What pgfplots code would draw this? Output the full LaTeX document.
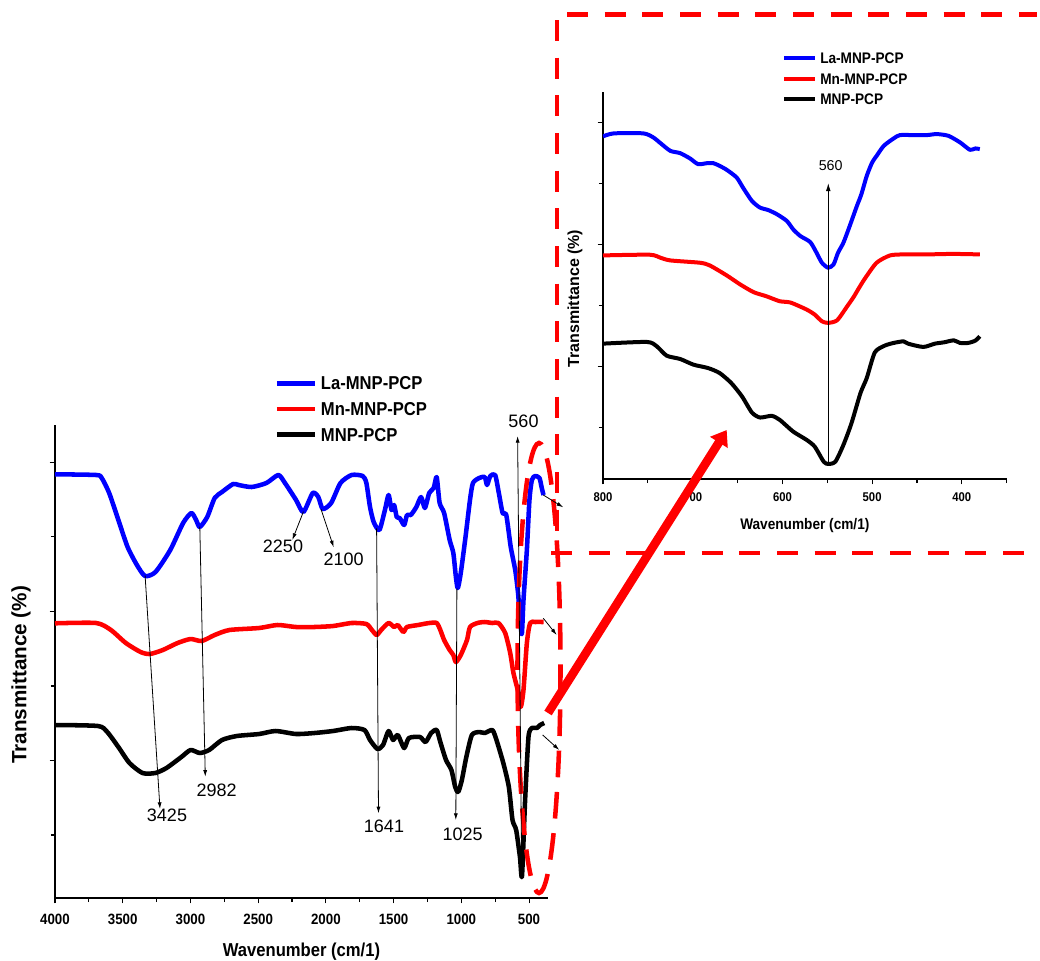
\documentclass[border=0pt]{standalone}
\usepackage{fontspec}
\usepackage{pgfplots}
\pgfplotsset{compat=1.18}
\usetikzlibrary{arrows.meta}
\newfontfamily\arialn[FakeStretch=0.89]{Liberation Sans}
\newfontfamily\arial{Liberation Sans}
\definecolor{myblue}{RGB}{0,0,255}
\definecolor{myred}{RGB}{255,0,0}

\pgfplotsset{
  spec/.style={
    scale only axis,
    x dir=reverse,
    axis x line*=bottom, axis y line*=left,
    axis line style={line width=0.9pt,-},
    tick align=outside,
    major tick length=4pt, minor tick length=3pt,
    every tick/.style={black, line width=0.8pt},
    every minor tick/.style={black, line width=0.8pt},
    yticklabels={,,,},
    /pgf/number format/1000 sep={},
    /pgf/number format/assume math mode=true,
    every axis plot/.append style={line width=3.4pt, no markers, line join=round, smooth, tension=0.4},
    legend cell align=left,
    legend image code/.code={\draw[#1] (0pt,0pt) -- (\legimglen,0pt);},
  }
}
\newcommand\legimglen{28.4pt}

\begin{document}
\begin{tikzpicture}
\begin{scope}[x=0.75pt,y=-0.75pt]
\path[use as bounding box] (0,0) rectangle (1040,961);
\end{scope}

% ---------------- main axis ----------------
\begin{axis}[spec,
  at={(41.25pt,-673.5pt)}, anchor=south west,
  width=369.75pt, height=354.75pt,
  xmin=360, xmax=4000, ymin=0, ymax=473,
  xtick={4000,3500,...,500},
  minor xtick={3750,3250,...,750},
  ytick={137.3,286.5,435.7},
  minor ytick={63,212,361.1},
  xticklabel style={font=\arialn\bfseries\fontsize{11.2}{13}\selectfont, inner sep=0pt, text height=8pt, text depth=0pt, anchor=north, yshift=-7.8pt},
  xlabel={Wavenumber (cm/1)},
  ylabel={Transmittance (\%)},
  xlabel style={at={(axis description cs:0.5,0)}, anchor=center, yshift=-39pt, font=\arialn\bfseries\fontsize{14}{16}\selectfont, inner sep=0pt, text height=10pt, text depth=0pt},
  ylabel style={at={(axis description cs:-0.073,0.4715)}, anchor=center, rotate=0, font=\arial\bfseries\fontsize{15.5}{17}\selectfont, inner sep=0pt, text height=11.1pt, text depth=0pt},
  legend style={draw=none, fill=none, inner sep=0pt, outer sep=0pt,
    at={(axis description cs:0.4456,1.1023)}, anchor=north west,
    row sep=9.3pt, column sep=2.9pt,
    font=\arialn\bfseries\fontsize{14}{16}\selectfont,
    nodes={inner sep=0pt, text height=10pt, text depth=0pt}},
]
\addplot[myblue] coordinates {(4000,423.7)(3696,423)(3655,420)(3600,405)(3532,378)(3464,351)(3395,333)(3335,322)(3258,326)(3149,348)(3054,375)(2993,385)(2958,378)(2931,371)(2876,381)(2821,400)(2767,406)(2685,414)(2644,413)(2548,411)(2439,415)(2351,423)(2302,415)(2220,398)(2166,386)(2097,405)(2056,401)(2023,389)(1961,395)(1892,415)(1810,423)(1728,422)(1701,415)(1674,391)(1647,376)(1605,368)(1564,388)(1537,403)(1515,388)(1496,393)(1477,381)(1455,380)(1422,373)(1401,383)(1373,383)(1332,391)(1297,401)(1269,390)(1237,405)(1204,410)(1182,421)(1160,395)(1127,385)(1086,358)(1059,345)(1040,321)(1026,310)(1004,325)(969,361)(936,398)(914,415)(868,420)(827,421)(810,413)(786,422)(750,423)(723,405)(695,385)(668,383)(635,351)(602,328)(581,305)(567,280)(553,264)(541,298)(516,348)(497,398)(479,418)(455,422)(423,420)(406,410)(393,403)};
\addlegendentry{La-MNP-PCP}
\addplot[myred] coordinates {(4000,274.7)(3696,275)(3587,268)(3477,255)(3368,246)(3300,244)(3204,248)(3095,255)(2999,259)(2917,257)(2821,263)(2712,268)(2493,270)(2357,273)(2220,271)(2084,271)(1947,272)(1810,275)(1701,274)(1660,268)(1625,263)(1592,268)(1537,275)(1496,271)(1469,273)(1428,266)(1401,271)(1319,273)(1237,275)(1182,275)(1155,268)(1127,258)(1086,248)(1059,243)(1040,236)(1004,243)(958,258)(936,271)(881,275)(827,276)(772,275)(726,275)(676,265)(639,245)(615,225)(578,205)(561,191)(541,208)(516,255)(492,275)(455,276)(393,276)};
\addlegendentry{Mn-MNP-PCP}
\addplot[black] coordinates {(4000,173)(3682,172)(3614,166)(3532,151)(3450,135)(3354,125)(3259,125)(3177,130)(3067,141)(2999,148)(2931,145)(2862,148)(2767,158)(2657,162)(2493,164)(2371,167)(2220,164)(2084,165)(1947,167)(1810,170)(1715,168)(1674,158)(1619,149)(1578,153)(1537,167)(1504,158)(1469,163)(1422,150)(1387,160)(1305,161)(1264,156)(1223,165)(1182,168)(1155,156)(1113,138)(1073,128)(1045,111)(1023,106)(996,118)(963,141)(922,163)(868,166)(827,165)(772,168)(745,160)(690,135)(649,111)(622,78)(595,68)(567,41)(552,22)(529,98)(504,161)(479,170)(442,170)(418,173)(388,175)};
\addlegendentry{MNP-PCP}
\end{axis}

% ---------------- inset axis ----------------
\renewcommand\legimglen{23.5pt}
\begin{axis}[spec,
  at={(452.25pt,-359.25pt)}, anchor=south west,
  width=302.78pt, height=289.5pt,
  xmin=350, xmax=800, ymin=0, ymax=386,
  xtick={800,700,...,400},
  minor xtick={750,650,...,350},
  ytick={112,234,356},
  minor ytick={51,173,295},
  xticklabel style={font=\arialn\bfseries\fontsize{9.5}{11}\selectfont, inner sep=0pt, text height=6.8pt, text depth=0pt, anchor=north, yshift=-5.9pt},
  xlabel={Wavenumber (cm/1)},
  ylabel={Transmittance (\%)},
  xlabel style={at={(axis description cs:0.5,0)}, anchor=center, yshift=-33.75pt, font=\arialn\bfseries\fontsize{11.5}{13}\selectfont, inner sep=0pt, text height=8.2pt, text depth=0pt},
  ylabel style={at={(axis description cs:-0.0731,0.466)}, anchor=center, rotate=0, font=\arial\bfseries\fontsize{12}{14}\selectfont, inner sep=0pt, text height=8.6pt, text depth=0pt},
  every axis plot/.append style={line width=3pt},
  legend style={draw=none, fill=none, inner sep=0pt, outer sep=0pt,
    at={(axis description cs:0.4437,1.1016)}, anchor=north west,
    row sep=7.3pt, column sep=2.1pt,
    font=\arialn\bfseries\fontsize{11.5}{13}\selectfont,
    nodes={inner sep=0pt, text height=8.2pt, text depth=0pt}},
]
\addplot[myblue] coordinates {(800,341.7)(788,344.7)(755,344.7)(744,340.7)(736,335)(725,327.3)(714,325)(703,319.7)(694,314)(684,315)(677,315)(670,312.3)(662,308.3)(651,300.7)(644,290.7)(634,277.3)(625,270.7)(616,268.3)(606,264)(595,257.3)(588,249)(580,242.3)(569,236.3)(562,225.7)(556,215.7)(549,210.7)(543,214)(538,225.7)(532,235.7)(525,252.3)(517,272.3)(512,284)(506,302.3)(500,315.7)(495,322.3)(487,332.3)(476,339.7)(469,343)(454,343)(439,343)(428,344)(415,342.3)(402,335.7)(391,328.3)(385,329.7)(380,329)};
\addlegendentry{La-MNP-PCP}
\addplot[myred] coordinates {(800,223)(748,223.7)(736,220.7)(725,218)(692,215.7)(681,213)(662,203)(647,194)(632,186.3)(618,182.3)(603,177.3)(591,176)(573,169)(564,164)(556,157.3)(549,155.7)(539,158.3)(528,172)(521,181)(515,190)(508,200)(495,215.7)(480,223)(465,224)(439,224)(410,224.5)(380,224)};
\addlegendentry{Mn-MNP-PCP}
\addplot[black] coordinates {(800,135)(751,136.7)(740,132.3)(729,123)(714,119.7)(699,114)(683,110.7)(670,105.7)(657,95.7)(645,82.3)(634,66.3)(625,61.3)(612,63)(603,59)(588,47.3)(573,39)(564,32.3)(554,17.3)(549,15)(541,17.3)(532,34)(523,55.7)(513,85.7)(506,100.7)(497,126.3)(486,133)(476,135.7)(465,137.3)(460,135)(443,131.7)(430,135)(420,136.3)(409,138.3)(402,135.7)(393,135.7)(385,138)(380,142.3)};
\addlegendentry{MNP-PCP}
\end{axis}

% ---------------- annotations ----------------
\begin{scope}[x=0.75pt,y=-0.75pt,
  lab/.style={font=\arial\fontsize{13.5}{15}\selectfont, inner sep=0pt, text height=9.7pt, text depth=0pt, anchor=center},
  ann/.style={black, line width=0.6pt, -{Latex[length=5pt,width=3pt]}}]
% dashed box
\draw[myred, line width=3.4pt, dash pattern=on 15.75pt off 12.5pt] (567,14.5) -- (1037,14.5);
\draw[myred, line width=3.4pt, dash pattern=on 15.75pt off 12.5pt] (557,20) -- (557,553);
\draw[myred, line width=3.4pt, dash pattern=on 15.75pt off 12.5pt] (551,553) -- (1027,553);
% ellipse
\draw[myred, line width=3.4pt, dash pattern=on 20pt off 11pt] (539,668) ellipse [x radius=21.5, y radius=225];
% big red arrow
\draw[myred, line width=6.5pt, -{Triangle[length=11pt,width=15pt]}] (548,713) -- (726.7,430);
% peak annotations main
\draw[ann] (145.1,575.7) -- (160,809);
\draw[ann] (199.8,526.7) -- (205.3,776.7);
\draw[ann] (303.4,511.7) -- (292.3,540);
\draw[ann] (321.1,509.3) -- (333.7,547.3);
\draw[ann] (376.6,528.3) -- (378.5,813.3);
\draw[ann] (456.9,588.3) -- (455.8,820);
\draw[ann] (521.7,870) -- (517.6,436);
\draw[ann] (543.3,495) -- (563.3,507.3);
\draw[ann] (543.3,618.3) -- (556.7,635);
\draw[ann] (542.7,735) -- (559.3,750);
\node[lab] at (167,815) {3425};
\node[lab] at (216.6,789.7) {2982};
\node[lab] at (283,545.8) {2250};
\node[lab] at (343.7,559.2) {2100};
\node[lab] at (384,825.8) {1641};
\node[lab] at (462.6,834.2) {1025};
\node[lab] at (523.5,420.8) {560};
% inset annotation
\draw[black, line width=0.7pt, -{Latex[length=6pt,width=3.5pt]}] (828.3,463) -- (828.3,183);
\node[font=\arial\fontsize{10.7}{12}\selectfont, inner sep=0pt, text height=7.7pt, text depth=0pt] at (830.7,165.7) {560};
\end{scope}
\end{tikzpicture}
\end{document}
